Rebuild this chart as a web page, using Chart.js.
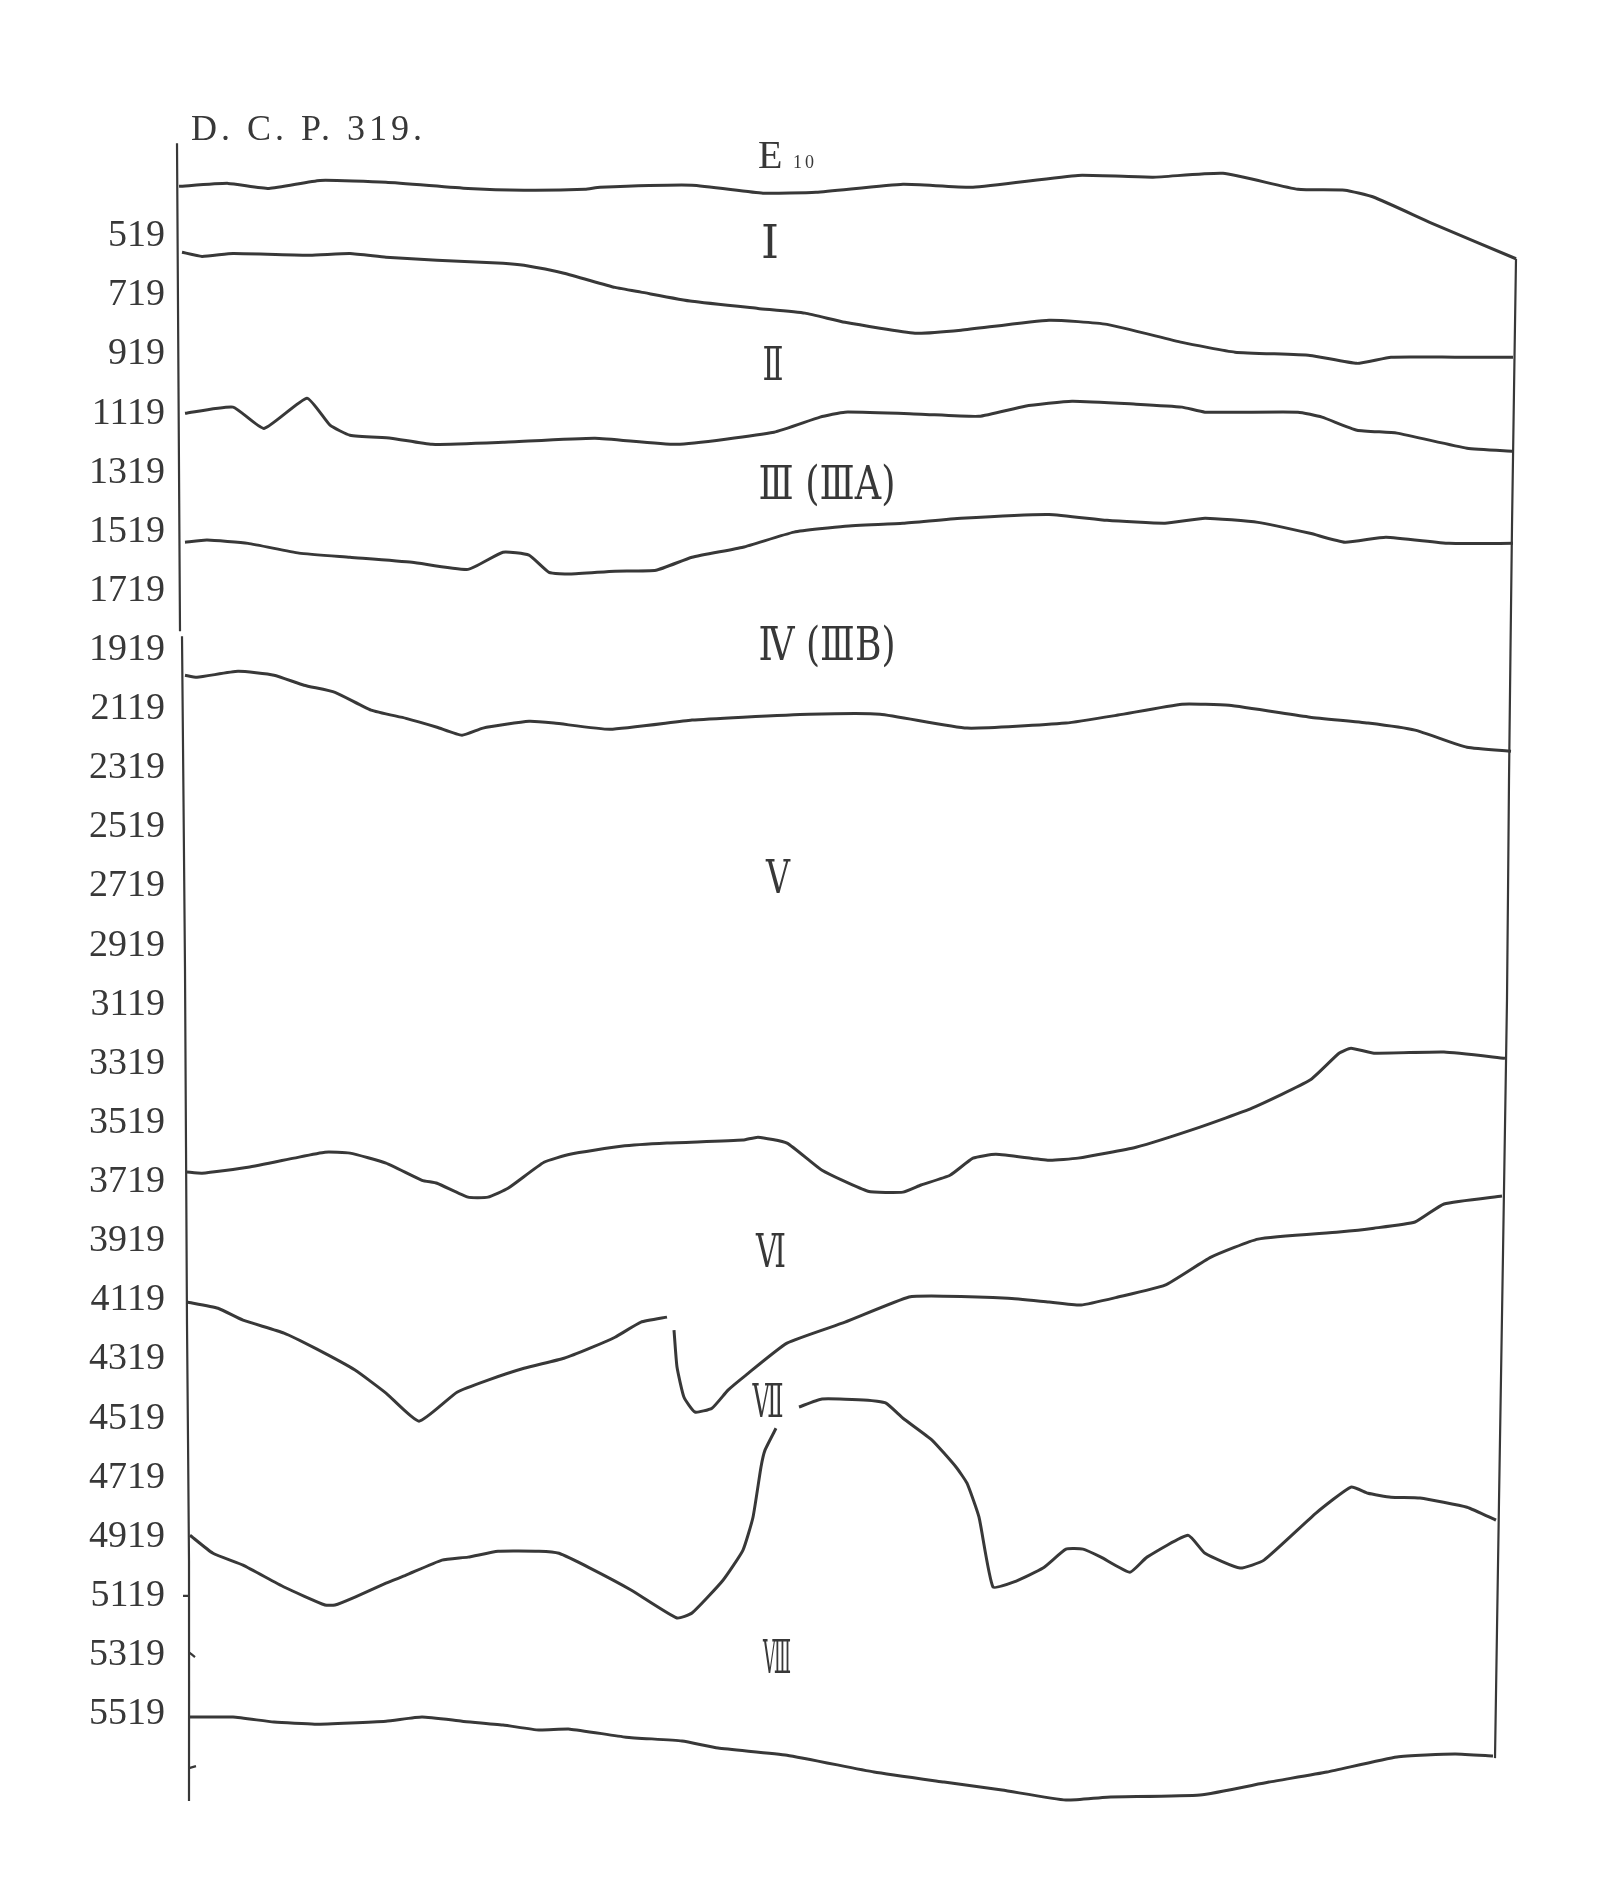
<!DOCTYPE html>
<html>
<head>
<meta charset="utf-8">
<title>D. C. P. 319</title>
<script src="https://cdn.jsdelivr.net/npm/chart.js@4/dist/chart.umd.min.js"></script>
<style>
  html, body { margin: 0; padding: 0; background: #fff; }
  canvas { display: block; }
</style>
</head>
<body>
<canvas id="profileChart" width="1611" height="1898"></canvas>
<script>
// depth labels on the left
const depthTicks = [519, 719, 919, 1119, 1319, 1519, 1719, 1919, 2119, 2319, 2519, 2719, 2919,
  3119, 3319, 3519, 3719, 3919, 4119, 4319, 4519, 4719, 4919, 5119, 5319, 5519];

// layer boundaries, [distance, depth]
const topE10 = [[0,350],[49,340],[90,357],[141,330],[207,336],[289,357],[345,363],[406,360],[421,353],
  [513,346],[584,373],[637,370],[724,343],[794,353],[899,313],[974,319],[1044,306],[1119,360],
  [1166,363],[1195,387],[1253,475],[1337,595]];
const baseI = [[3,573],[23,587],[54,577],[131,583],[171,577],[207,590],[258,600],[324,610],[345,617],
  [385,644],[436,692],[462,708],[513,739],[579,763],[626,779],[666,810],[736,847],[782,837],[870,803],
  [928,817],[1003,878],[1056,911],[1131,922],[1178,949],[1212,928],[1276,928],[1334,928]];
const baseII = [[6,1118],[54,1097],[85,1169],[128,1067],[151,1158],[171,1192],[212,1202],[253,1223],
  [324,1216],[416,1202],[498,1223],[595,1182],[641,1131],[666,1114],[742,1121],[800,1128],[846,1094],
  [893,1077],[957,1087],[1003,1097],[1026,1114],[1119,1114],[1143,1131],[1178,1175],[1218,1185],
  [1288,1236],[1334,1246]];
const baseIII = [[6,1554],[28,1547],[69,1558],[120,1591],[171,1605],[233,1622],[289,1646],[324,1588],
  [350,1598],[370,1656],[391,1662],[436,1652],[477,1649],[513,1605],[564,1571],[615,1520],[666,1500],
  [724,1490],[782,1473],[870,1460],[928,1480],[986,1490],[1026,1473],[1079,1487],[1131,1524],
  [1166,1554],[1207,1537],[1270,1558],[1334,1558]];
const baseIV = [[6,2004],[18,2011],[59,1991],[95,2004],[125,2038],[156,2062],[192,2122],[227,2150],
  [258,2180],[283,2207],[304,2183],[350,2160],[375,2166],[431,2187],[513,2156],[564,2146],[630,2136],
  [701,2136],[788,2183],[887,2166],[939,2139],[1003,2102],[1050,2106],[1131,2146],[1189,2166],
  [1236,2190],[1288,2248],[1332,2261]];
const baseV = [[8,3685],[23,3689],[69,3669],[115,3638],[146,3618],[171,3621],[207,3655],[243,3713],
  [258,3723],[289,3770],[309,3770],[329,3740],[365,3652],[391,3625],[442,3598],[488,3587],[564,3577],
  [579,3567],[608,3587],[643,3679],[689,3750],[724,3753],[742,3729],[771,3696],[794,3638],[817,3625],
  [870,3645],[899,3638],[957,3601],[1021,3533],[1073,3469],[1131,3374],[1160,3283],[1172,3266],
  [1195,3283],[1265,3279],[1326,3300]];
const baseVI = [[8,4125],[39,4146],[64,4186],[105,4230],[136,4281],[176,4355],[207,4433],[240,4528],
  [278,4430],[309,4389],[345,4349],[385,4315],[411,4281],[436,4244],[462,4193],[488,4176], null,
  [495,4220],[498,4345],[505,4447],[516,4497],[533,4484],[549,4423],[567,4372],[608,4264],[666,4193],
  [730,4108],[765,4105],[829,4112],[870,4125],[902,4135],[939,4108],[986,4068],[1032,3973],[1079,3912],
  [1160,3888],[1195,3875],[1236,3854],[1265,3793],[1323,3766]];
const baseVII = [[11,4914],[34,4975],[64,5015],[105,5089],[146,5150],[156,5150],[176,5123],[207,5076],
  [227,5049],[263,4998],[289,4988],[319,4968],[360,4968],[380,4975],[411,5025],[452,5099],[498,5194],
  [513,5177],[544,5066],[564,4964],[574,4853],[582,4683],[586,4626],[597,4552], null,
  [620,4480],[643,4453],[689,4457],[707,4467],[724,4518],[753,4592],[777,4683],[788,4738],[800,4853],
  [814,5089],[835,5072],[864,5025],[887,4961],[904,4961],[922,4988],[951,5039],[968,4988],[1009,4914],
  [1026,4975],[1061,5025],[1085,4998],[1137,4839],[1172,4751],[1189,4772],[1212,4785],[1241,4788],
  [1288,4819],[1317,4863]];
const baseVIII = [[11,5529],[54,5529],[95,5546],[136,5553],[207,5543],[243,5529],[283,5543],[324,5556],
  [360,5573],[391,5570],[447,5597],[503,5610],[539,5634],[608,5658],[695,5715],[765,5749],[823,5776],
  [887,5810],[928,5800],[1021,5793],[1090,5749],[1148,5715],[1218,5664],[1276,5654],[1314,5661]];

// section walls
const leftWall = [[-2,204],[1,1855], null, [3,1872],[6,3000],[8,4200],[10,5000],[10,5813]];
const rightWall = [[1337,595],[1333,1500],[1330,2360],[1328,3100],[1320,4800],[1316,5668]];
const wallMarks = [[4,5119],[10,5119], null, [10,5310],[16,5326], null, [10,5702],[17,5695]];

// layer names
const layerNames = ['Ⅰ', 'Ⅱ', 'Ⅲ (ⅢA)', 'Ⅳ (ⅢB)', 'Ⅴ', 'Ⅵ', 'Ⅶ', 'Ⅷ'];
const titleText = 'D. C. P. 319.';

const ink = '#383838';

// where the layer names sit (distance, depth) and how wide they are drawn
const nameSpots = [
  { x: 591, d: 553, w: 18 },
  { x: 594, d: 966, w: 21 },
  { x: 648, d: 1368, w: 137 },
  { x: 648, d: 1913, w: 137 },
  { x: 599, d: 2701, w: 24 },
  { x: 592, d: 3966, w: 30 },
  { x: 589, d: 4474, w: 31 },
  { x: 598, d: 5340, w: 28 }
];

function toPoints(list) {
  let lastX = 0;
  return list.map(p => {
    if (p === null) return { x: lastX, y: null };
    lastX = p[0];
    return { x: p[0], y: p[1] };
  });
}

function boundary(list, width) {
  return {
    data: toPoints(list),
    borderColor: ink,
    borderWidth: width,
    pointRadius: 0,
    tension: 0.15,
    spanGaps: false,
    fill: false
  };
}

const labelPlugin = {
  id: 'layerLabels',
  afterDatasetsDraw(chart) {
    const ctx = chart.ctx;
    const xs = chart.scales.x, ys = chart.scales.y;
    ctx.save();
    ctx.fillStyle = ink;

    // title
    ctx.font = '36px "Liberation Serif", serif';
    ctx.letterSpacing = '4px';
    ctx.textAlign = 'left';
    ctx.textBaseline = 'middle';
    ctx.fillText(titleText, xs.getPixelForValue(12), ys.getPixelForValue(160));

    // E10
    ctx.letterSpacing = '0px';
    ctx.font = '40px "Liberation Serif", serif';
    ctx.textBaseline = 'alphabetic';
    const ex = xs.getPixelForValue(579), ey = ys.getPixelForValue(288);
    ctx.fillText('E', ex, ey);
    ctx.font = '18px "Liberation Serif", serif';
    ctx.letterSpacing = '3px';
    ctx.fillText('10', ex + 35, ey);
    ctx.letterSpacing = '0px';

    // roman numerals, condensed
    layerNames.forEach((name, i) => {
      const s = nameSpots[i];
      ctx.save();
      ctx.font = '46px "DejaVu Serif", "Liberation Serif", serif';
      const m = ctx.measureText(name).width;
      ctx.translate(xs.getPixelForValue(s.x), ys.getPixelForValue(s.d));
      ctx.scale(s.w / m, 1);
      ctx.textAlign = 'center';
      ctx.textBaseline = 'middle';
      ctx.fillText(name, 0, 0);
      ctx.restore();
    });
    ctx.restore();
  }
};

const ctx = document.getElementById('profileChart').getContext('2d');
new Chart(ctx, {
  type: 'line',
  data: {
    datasets: [
      boundary(topE10, 3),
      boundary(baseI, 3),
      boundary(baseII, 3),
      boundary(baseIII, 3),
      boundary(baseIV, 3),
      boundary(baseV, 3),
      boundary(baseVI, 3),
      boundary(baseVII, 3),
      boundary(baseVIII, 3),
      boundary(leftWall, 2.2),
      boundary(rightWall, 2.2),
      boundary(wallMarks, 2.2)
    ]
  },
  options: {
    responsive: false,
    animation: false,
    layout: { padding: { top: 142, bottom: 92, left: 0, right: 62 } },
    plugins: {
      legend: { display: false },
      tooltip: { enabled: false }
    },
    scales: {
      x: { type: 'linear', display: false, min: -10, max: 1370 },
      y: {
        type: 'linear',
        position: 'left',
        reverse: true,
        min: 200,
        max: 5830,
        afterFit: scale => { scale.width = 169; },
        afterBuildTicks: scale => { scale.ticks = depthTicks.map(v => ({ value: v })); },
        grid: { display: false, drawTicks: false },
        border: { display: false },
        ticks: {
          autoSkip: false,
          padding: 4,
          color: ink,
          font: { family: '"Liberation Serif", serif', size: 38 },
          callback: v => String(v)
        }
      }
    }
  },
  plugins: [labelPlugin]
});
</script>
</body>
</html>
